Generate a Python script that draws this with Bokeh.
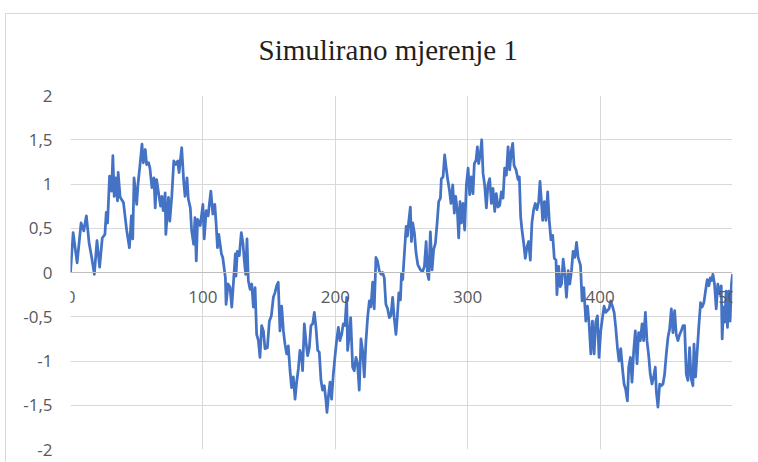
from bokeh.plotting import figure
from bokeh.models import FixedTicker, Range1d, Title
from bokeh.embed import file_html
from bokeh.resources import INLINE

title_text = "Simulirano mjerenje 1"

x_vals = [
    0, 2, 5, 8, 10, 12, 14, 16, 18, 20, 22, 24, 26, 27, 28, 29.5, 31, 32, 33, 34,
    35.5, 36, 37.5, 40, 42.5, 44.5, 46, 47, 48, 50, 51, 52.5, 54, 55, 56.5, 57.5,
    59, 60, 61.5, 63, 64, 65, 66.5, 68, 69, 70, 71.5, 72, 74, 75, 76.5, 78, 79.5,
    81, 82, 84, 85.5, 86.5, 88, 89, 90.5, 91.5, 93, 94, 95, 96, 98, 100, 101,
    102.5, 104, 105, 106, 107.5, 109, 110, 111, 112, 114, 115, 117, 117.5, 119,
    120.5, 121.8, 123, 124.5, 125, 126, 127.5, 129, 130.2, 131.3, 132.3, 133.3,
    134.3, 135.6, 136.9, 138.1, 139.4, 140.6, 141.9, 143.1, 144.4, 145.7, 146.9,
    148.7, 150.2, 151.7, 153.2, 154.4, 155.7, 156.9, 158.2, 159.5, 160.8, 162,
    163.3, 164.5, 165.8, 167, 168.3, 169.6, 170.8, 172.1, 173.3, 174.6, 175.3,
    176.6, 177.9, 179.1, 180.4, 181.6, 182.9, 184.2, 185.4, 186.7, 187.9, 189.2,
    190.4, 191.7, 193, 193.7, 195, 196, 197.2, 198.5, 199.7, 201, 202.3, 203.5,
    204.8, 206, 207.3, 208.6, 209.3, 210.6, 211.6, 213.1, 214.3, 215.6, 216.8,
    218.1, 219.4, 220.6, 221.9, 223.1, 224.4, 225.7, 226.9, 228.2, 229.4, 230.7,
    231.9, 233.2, 234.5, 235.7, 237, 238.2, 239.5, 240.8, 242, 243.3, 244.5, 245.8,
    246.7, 248, 249.2, 250, 250.9, 252.2, 253.5, 254.5, 255.5, 256.7, 257.5, 258.5,
    259.8, 261, 262.3, 264.3, 266, 267.3, 268.6, 269.6, 270.6, 271.8, 273.1, 274.3,
    275.6, 276.9, 278.1, 279.4, 280.1, 281.4, 282.6, 283.6, 284.9, 286.2, 287.4,
    288.7, 289.9, 290.9, 292.2, 293.2, 294.2, 295.2, 296.5, 297.7, 299, 300.3,
    301.5, 302.8, 304, 305, 306.3, 307.3, 308.3, 309.6, 310.6, 311.6, 312.8, 314.1,
    315.3, 316.6, 317.9, 319.1, 320.4, 321.6, 322.9, 324.2, 325.4, 326.7, 327.9,
    329.2, 330.5, 331.7, 333, 334, 335, 336.5, 338, 339, 340, 341, 342.3, 343.5,
    344.8, 346, 347.3, 348.5, 349.8, 351, 352.3, 353.6, 354.6, 355.6, 356.6, 357.9,
    359.1, 360.4, 361.6, 362.9, 364.2, 365.4, 366.7, 367.4, 368.7, 369.9,
    370.9, 372.1, 373.4, 374.6, 375.9, 377.1, 378.4, 379.6, 380.9, 382.2, 383.4,
    385.2, 386.4, 387.7, 389.2, 390.5, 391.7, 393, 394.2, 395.5, 396.7, 398, 399.2,
    400.5, 401.8, 403, 404.3, 405.5, 406.8, 408, 409.3, 410.6, 411.8, 413.1, 414.3,
    415.6, 416.8, 418.1, 419.3, 420.6, 421.6, 422.9, 424.1, 425.4, 426.6, 427.9,
    429.1, 430.4, 431.7, 432.9, 434.2, 435.4, 436.7, 437.9, 439.2, 440.5, 441.7,
    442.5, 443.7, 445, 446.2, 447.5, 448.7, 450, 451.3, 452.5, 453.8, 455, 456.3,
    457.5, 458.8, 460.1, 461.3, 462.6, 463.8, 465.1, 466.3, 467.6, 468.8, 470.1,
    470.9, 472.1, 473.4, 474.6, 475.9, 477.1, 478.4, 479.6, 480.9, 482.2, 483.2,
    484.2, 485.2, 486.4, 487.7, 488.9, 490.2, 491.5, 492.2, 493.2, 494.2, 495.2,
    496.2, 497.2, 498.2, 499.2, 500,
]

y_vals = [
    0, 0.45, 0.11, 0.56, 0.47, 0.64, 0.34, 0.17, -0.02, 0.36, 0.06, 0.39, 0.43, 0.68,
    0.56, 1.09, 0.92, 1.32, 0.86, 1.07, 0.81, 1.13, 0.85, 0.79, 0.47, 0.28, 0.64,
    0.38, 1.07, 0.77, 1.0, 1.22, 1.45, 1.24, 1.39, 1.22, 1.24, 1.18, 0.96, 1.07,
    0.73, 1.05, 0.9, 0.75, 0.86, 0.7, 0.9, 0.43, 0.85, 0.58, 0.86, 1.26, 1.22, 1.26,
    1.13, 1.41, 1.03, 0.86, 1.07, 0.83, 0.73, 0.47, 0.32, 0.62, 0.13, 0.6, 0.53,
    0.77, 0.38, 0.7, 0.64, 0.79, 0.92, 0.66, 0.77, 0.55, 0.28, 0.43, 0.21, 0.17,
    -0.06, -0.36, -0.13,
    -0.17, -0.39, -0.13, 0.21, -0.04, 0.24, 0.19, 0.45, 0.34, 0.13, -0.02, 0.38,
    -0.09, -0.19, -0.13, -0.39, -0.17, -0.70, -0.77, -0.96, -0.6, -0.66, -0.86,
    -0.85, -0.55, -0.49, -0.28, -0.23, -0.15, -0.11, -0.66, -0.38, -0.66, -0.81,
    -0.92, -0.83, -1.11, -1.3, -1.18, -1.43, -1.24, -1.09, -0.88, -0.96, -1.11,
    -0.58, -0.79, -0.94, -0.85, -0.6, -0.58, -0.45, -0.62, -0.88, -0.9, -1.22,
    -1.33, -1.28, -1.45, -1.58, -1.37, -1.24, -1.43, -1.15, -0.96, -0.77, -0.62,
    -0.77, -0.70, -0.58, -0.6, -0.28, -0.88, -0.7, -0.51, -1.07, -1.11, -0.96,
    -1.03, -1.33, -0.75, -0.88, -1.18, -0.79, -0.51, -0.32, -0.39, -0.11, -0.41,
    0.17, 0.13, 0.02, -0.02, 0.0, -0.06, -0.36, -0.41, -0.51, -0.49, -0.28, -0.51,
    -0.70,
    -0.53, -0.23, -0.31, -0.01, -0.08, 0.22, 0.52, 0.41, 0.58, 0.74, 0.35, 0.56,
    0.44, 0.22, 0.09, 0.03, 0.01, 0.07, 0.35, -0.01, -0.08, 0.46, 0.03, 0.26, 0.33,
    0.56, 0.80, 0.84, 1.06, 1.08, 1.33, 1.2, 1.05, 0.93, 0.78, 0.99, 0.67, 0.86,
    0.69, 0.39, 0.8, 0.56, 0.78, 0.48, 0.99, 1.18, 0.88, 1.08, 0.89, 1.23, 1.27,
    1.42, 1.23, 1.35, 1.5, 1.12, 0.99, 0.73, 0.99, 1.06, 0.78, 0.95, 0.69, 0.89,
    0.74, 0.76, 0.91, 0.84, 1.18, 1.1, 1.42, 1.16, 1.38, 1.46, 1.21, 1.16, 1.05,
    1.08, 0.63, 0.48, 0.33, 0.16, 0.29, 0.35, 0.14, 0.56, 0.71, 0.78, 0.71, 0.80,
    1.03, 0.82, 0.59, 0.80, 0.59, 0.91, 0.59, 0.37, 0.42, 0.16, 0.14, -0.25, 0.07,
    -0.16,
    -0.13, 0.15, -0.02, -0.28, 0.02, -0.13, 0.02, 0.24, 0.17, 0.34, 0.17, 0.08,
    -0.32, -0.17, -0.55, -0.38, -0.58, -0.92, -0.55, -0.92, -0.56, -0.49, -0.96,
    -0.66, -0.51, -0.38, -0.45, -0.43, -0.41, -0.32, -0.38, -0.45, -0.62, -0.85,
    -1.0, -0.86, -1.07, -1.26, -1.32, -1.45, -1.07, -0.96, -1.24, -0.88, -0.66,
    -1.03, -0.68, -0.77, -0.58, -0.77, -0.45, -0.77, -0.94, -1.15, -1.26, -1.17,
    -1.07, -1.35, -1.52, -1.26, -1.28, -1.26, -1.15, -0.92, -0.73, -0.64, -0.41,
    -0.68, -0.43, -0.70, -0.77, -0.70, -0.66, -0.6, -0.6, -1.15, -1.22, -0.85,
    -1.20, -1.28, -0.81, -1.18, -0.88, -0.6, -0.34, -0.39, -0.34, -0.21, -0.08,
    -0.15, -0.06, -0.09, -0.02, -0.13, -0.41, -0.13, -0.24, -0.15, -0.75, -0.39,
    -0.56, -0.21, -0.62, -0.21, -0.55, -0.13, -0.02,
]

x_ticks = [0, 100, 200, 300, 400, 500]
x_tick_labels = ["0", "100", "200", "300", "400", "500"]
y_ticks = [-2, -1.5, -1, -0.5, 0, 0.5, 1, 1.5, 2]
y_tick_labels = ["-2", "-1,5", "-1", "-0,5", "0", "0,5", "1", "1,5", "2"]

p = figure(width=758, height=462, output_backend="svg", toolbar_location=None,
           x_range=Range1d(0, 500), y_range=Range1d(-2, 2),
           min_border_left=70, min_border_right=26, min_border_top=95,
           min_border_bottom=13)

p.title.visible = False
p.background_fill_color = "white"
p.border_fill_color = None
p.outline_line_color = None
# thin grey chart-area border (left and top edges), as in the spreadsheet chart
p.styles = {
    "background": (
        "linear-gradient(#d9d9d9, #d9d9d9) 5px 13px / 1px 449px no-repeat, "
        "linear-gradient(#d9d9d9, #d9d9d9) 5px 13px / 753px 1px no-repeat, white"
    )
}

grid_color = "#d9d9d9"
p.xgrid.ticker = FixedTicker(ticks=x_ticks)
p.ygrid.ticker = FixedTicker(ticks=y_ticks)
p.xgrid.grid_line_color = grid_color
p.ygrid.grid_line_color = grid_color
p.xgrid.grid_line_width = 1
p.ygrid.grid_line_width = 1

label_font = "Open Sans"
label_color = "#595959"

xa = p.xaxis[0]
xa.fixed_location = 0
xa.ticker = FixedTicker(ticks=x_ticks)
xa.major_label_overrides = {t: s for t, s in zip(x_ticks, x_tick_labels)}
xa.axis_line_color = "#bfbfbf"
xa.axis_line_width = 1
xa.major_tick_line_color = None
xa.minor_tick_line_color = None
xa.major_label_standoff = 12
xa.major_label_text_font = label_font
xa.major_label_text_font_size = "17px"
xa.major_label_text_color = label_color

ya = p.yaxis[0]
ya.ticker = FixedTicker(ticks=y_ticks)
ya.major_label_overrides = {t: s for t, s in zip(y_ticks, y_tick_labels)}
ya.axis_line_color = None
ya.major_tick_line_color = None
ya.minor_tick_line_color = None
ya.major_label_standoff = 12
ya.major_label_text_font = label_font
ya.major_label_text_font_size = "17px"
ya.major_label_text_color = label_color

p.line(x_vals, y_vals, line_color="#4472C4", line_width=2.75, line_join="round")

chart_title = Title(text=title_text, align="left", offset=188, standoff=60,
                    text_font="Liberation Serif", text_font_size="29px",
                    text_font_style="normal", text_color="#1f1f1f")
p.add_layout(chart_title, "above")

open("out.html", "w").write(file_html(p, INLINE))
